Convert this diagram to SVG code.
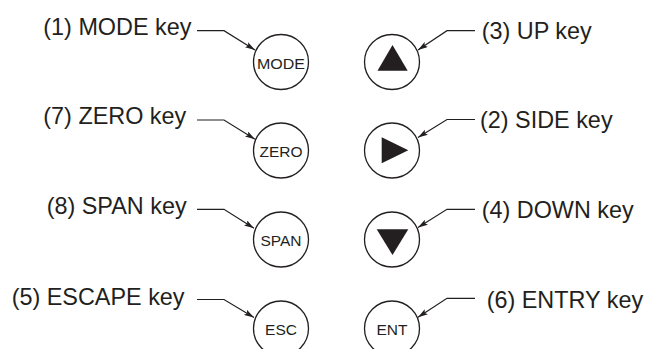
<svg xmlns="http://www.w3.org/2000/svg" width="648" height="349" viewBox="0 0 648 349">
<defs>
<style>
.lbl{font-family:"Liberation Sans",Arial,sans-serif;font-size:23.4px;fill:#231f20}
.key{font-family:"Liberation Sans",Arial,sans-serif;font-size:15.5px;fill:#231f20;text-anchor:middle}
.btn{fill:#fff;stroke:#231f20;stroke-width:1.3}
.tri{fill:#231f20}
.ld{fill:none;stroke:#231f20;stroke-width:1.2}
</style>
<marker id="ah" viewBox="0 0 10 6" refX="10" refY="3" markerWidth="10" markerHeight="6" markerUnits="userSpaceOnUse" orient="auto">
<path d="M0,0 L10,3 L0,6 L2,3 Z" fill="#231f20"/>
</marker>
</defs>
<rect width="648" height="349" fill="#fff"/>
<g id="connectors">
<path class="ld" d="M197,30.7 H224 L255,50" marker-end="url(#ah)"/>
<path class="ld" d="M197,120 H224 L255,139.3" marker-end="url(#ah)"/>
<path class="ld" d="M197,209.3 H224 L254,228.3" marker-end="url(#ah)"/>
<path class="ld" d="M197,299.5 H224 L254,317.5" marker-end="url(#ah)"/>
<path class="ld" d="M475,30.7 H447 L418,50" marker-end="url(#ah)"/>
<path class="ld" d="M475,119.5 H447 L418,137.5" marker-end="url(#ah)"/>
<path class="ld" d="M475,209.3 H447 L418,227.5" marker-end="url(#ah)"/>
<path class="ld" d="M475,298.3 H447 L418,317.3" marker-end="url(#ah)"/>
</g>
<g id="label-mode"><text class="lbl" x="43.3" y="35">(1) MODE key</text></g>
<g id="label-zero"><text class="lbl" x="43.3" y="124.3">(7) ZERO key</text></g>
<g id="label-span"><text class="lbl" x="46.7" y="214">(8) SPAN key</text></g>
<g id="label-esc"><text class="lbl" x="11.7" y="304.5">(5) ESCAPE key</text></g>
<g id="label-up"><text class="lbl" x="481.7" y="39.3">(3) UP key</text></g>
<g id="label-side"><text class="lbl" x="480" y="128">(2) SIDE key</text></g>
<g id="label-down"><text class="lbl" x="481.7" y="218.3">(4) DOWN key</text></g>
<g id="label-entry"><text class="lbl" x="486.7" y="308">(6) ENTRY key</text></g>
<g id="key-mode"><circle class="btn" cx="281" cy="62" r="27.5"/><text class="key" x="281" y="68.5" textLength="48" lengthAdjust="spacingAndGlyphs">MODE</text></g>
<g id="key-zero"><circle class="btn" cx="281" cy="150.5" r="27.5"/><text class="key" x="281" y="157">ZERO</text></g>
<g id="key-span"><circle class="btn" cx="281" cy="239.5" r="27.5"/><text class="key" x="281" y="246">SPAN</text></g>
<g id="key-esc"><circle class="btn" cx="281" cy="328.5" r="27.5"/><text class="key" x="281" y="335">ESC</text></g>
<g id="key-up"><circle class="btn" cx="392" cy="62" r="27.5"/><polygon class="tri" points="392.5,45 407.7,70.7 377.5,70.7"/></g>
<g id="key-side"><circle class="btn" cx="392" cy="150.5" r="27.5"/><polygon class="tri" points="381.7,137.3 408.3,150.3 381.7,163.3"/></g>
<g id="key-down"><circle class="btn" cx="392" cy="239.5" r="27.5"/><polygon class="tri" points="376.7,229.3 408.3,229.3 392.5,255"/></g>
<g id="key-ent"><circle class="btn" cx="392" cy="328.5" r="27.5"/><text class="key" x="392" y="335">ENT</text></g>
</svg>
